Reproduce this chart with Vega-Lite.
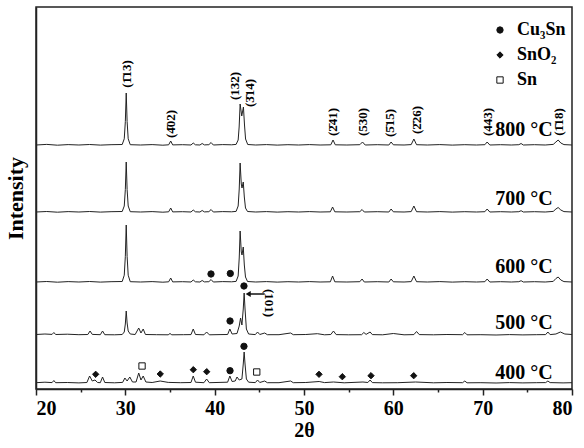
{
  "$schema": "https://vega.github.io/schema/vega-lite/v6.json",
  "width": 536,
  "height": 382,
  "autosize": {"type": "none"},
  "padding": {"left": 36, "top": 7, "right": 12, "bottom": 59},
  "background": "white",
  "config": {
    "view": {"stroke": "#222", "strokeWidth": 1.5},
    "font": "Liberation Serif"
  },
  "datasets": {
    "lines": [
      {"s":"800","t":20,"i":244},{"s":"800","t":21.2,"i":244.6},{"s":"800","t":22.4,"i":243.8},{"s":"800","t":23.6,"i":244.4},{"s":"800","t":24.8,"i":244},{"s":"800","t":26,"i":244.5},{"s":"800","t":27.2,"i":243.9},{"s":"800","t":28.4,"i":244.3},{"s":"800","t":29.65,"i":244.5},
      {"s":"800","t":29.88,"i":250.2},{"s":"800","t":30.0,"i":267.4},{"s":"800","t":30.1,"i":296},{"s":"800","t":30.2,"i":267.4},{"s":"800","t":30.32,"i":250.2},{"s":"800","t":30.55,"i":244.3},
      {"s":"800","t":31.7,"i":244},{"s":"800","t":33,"i":244.4},{"s":"800","t":34.2,"i":243.8},{"s":"800","t":34.85,"i":244.2},{"s":"800","t":35.08,"i":248},{"s":"800","t":35.3,"i":244.1},{"s":"800","t":36.4,"i":244.3},{"s":"800","t":37.35,"i":244},{"s":"800","t":37.6,"i":246},{"s":"800","t":37.85,"i":244.2},{"s":"800","t":38.35,"i":244},{"s":"800","t":38.6,"i":245.5},{"s":"800","t":38.85,"i":244.1},{"s":"800","t":39.35,"i":244.3},{"s":"800","t":39.6,"i":246.5},{"s":"800","t":39.85,"i":244},{"s":"800","t":40.9,"i":244.4},{"s":"800","t":41.9,"i":244.2},
      {"s":"800","t":42.4,"i":244.6},{"s":"800","t":42.63,"i":249},{"s":"800","t":42.74,"i":262},{"s":"800","t":42.85,"i":285},{"s":"800","t":43.03,"i":273},{"s":"800","t":43.22,"i":282},{"s":"800","t":43.34,"i":264},{"s":"800","t":43.46,"i":250},{"s":"800","t":43.7,"i":244.5},
      {"s":"800","t":44.6,"i":244},{"s":"800","t":45.8,"i":244.4},{"s":"800","t":47,"i":243.9},{"s":"800","t":48.2,"i":244.3},{"s":"800","t":49.4,"i":244},{"s":"800","t":50.6,"i":244.4},{"s":"800","t":51.8,"i":244},{"s":"800","t":53.0,"i":244.2},{"s":"800","t":53.25,"i":249},{"s":"800","t":53.5,"i":244.2},{"s":"800","t":54.8,"i":244},{"s":"800","t":56.25,"i":244.3},{"s":"800","t":56.55,"i":247},{"s":"800","t":56.85,"i":244},{"s":"800","t":58.2,"i":244.3},{"s":"800","t":59.5,"i":244},{"s":"800","t":59.75,"i":247},{"s":"800","t":60.0,"i":244.2},{"s":"800","t":61.2,"i":244},{"s":"800","t":62.0,"i":244.4},{"s":"800","t":62.3,"i":250},{"s":"800","t":62.6,"i":244.3},{"s":"800","t":63.8,"i":244},{"s":"800","t":65.2,"i":244.4},{"s":"800","t":66.6,"i":243.9},{"s":"800","t":68,"i":244.3},{"s":"800","t":69.3,"i":244},{"s":"800","t":70.25,"i":244.3},{"s":"800","t":70.5,"i":247},{"s":"800","t":70.8,"i":244},{"s":"800","t":72,"i":244.3},{"s":"800","t":73.2,"i":244},{"s":"800","t":74.05,"i":244.3},{"s":"800","t":74.3,"i":245.5},{"s":"800","t":74.55,"i":244},{"s":"800","t":75.8,"i":244.3},{"s":"800","t":77,"i":244},{"s":"800","t":77.9,"i":244.6},{"s":"800","t":78.2,"i":247},{"s":"800","t":78.45,"i":249},{"s":"800","t":78.75,"i":246},{"s":"800","t":79.1,"i":244.4},{"s":"800","t":80,"i":244},

      {"s":"700","t":20,"i":177},{"s":"700","t":21.2,"i":177.5},{"s":"700","t":22.4,"i":176.8},{"s":"700","t":23.6,"i":177.4},{"s":"700","t":24.8,"i":177},{"s":"700","t":26,"i":177.5},{"s":"700","t":27.2,"i":176.9},{"s":"700","t":28.4,"i":177.3},{"s":"700","t":29.65,"i":177.5},
      {"s":"700","t":29.88,"i":183},{"s":"700","t":30.0,"i":199.5},{"s":"700","t":30.1,"i":227},{"s":"700","t":30.2,"i":199.5},{"s":"700","t":30.32,"i":183},{"s":"700","t":30.55,"i":177.3},
      {"s":"700","t":31.7,"i":177},{"s":"700","t":33,"i":177.4},{"s":"700","t":34.2,"i":176.8},{"s":"700","t":34.85,"i":177.2},{"s":"700","t":35.08,"i":181},{"s":"700","t":35.3,"i":177.1},{"s":"700","t":36.4,"i":177.3},{"s":"700","t":37.35,"i":177},{"s":"700","t":37.6,"i":179},{"s":"700","t":37.85,"i":177.2},{"s":"700","t":38.35,"i":177},{"s":"700","t":38.6,"i":178.5},{"s":"700","t":38.85,"i":177.1},{"s":"700","t":39.35,"i":177.3},{"s":"700","t":39.6,"i":179.5},{"s":"700","t":39.85,"i":177},{"s":"700","t":40.9,"i":177.4},{"s":"700","t":41.9,"i":177.2},
      {"s":"700","t":42.4,"i":177.6},{"s":"700","t":42.63,"i":183},{"s":"700","t":42.75,"i":200},{"s":"700","t":42.85,"i":226},{"s":"700","t":42.98,"i":205},{"s":"700","t":43.06,"i":201},{"s":"700","t":43.2,"i":207},{"s":"700","t":43.32,"i":192},{"s":"700","t":43.45,"i":181},{"s":"700","t":43.68,"i":177.5},
      {"s":"700","t":44.6,"i":177},{"s":"700","t":45.8,"i":177.4},{"s":"700","t":47,"i":176.9},{"s":"700","t":48.2,"i":177.3},{"s":"700","t":49.4,"i":177},{"s":"700","t":50.6,"i":177.4},{"s":"700","t":51.8,"i":177},{"s":"700","t":52.95,"i":177.2},{"s":"700","t":53.2,"i":182},{"s":"700","t":53.45,"i":177.2},{"s":"700","t":54.8,"i":177},{"s":"700","t":56.25,"i":177.3},{"s":"700","t":56.5,"i":179.5},{"s":"700","t":56.75,"i":177},{"s":"700","t":58.2,"i":177.3},{"s":"700","t":59.5,"i":177},{"s":"700","t":59.75,"i":180},{"s":"700","t":60.0,"i":177.2},{"s":"700","t":61.2,"i":177},{"s":"700","t":62.0,"i":177.4},{"s":"700","t":62.3,"i":183},{"s":"700","t":62.6,"i":177.3},{"s":"700","t":63.8,"i":177},{"s":"700","t":65.2,"i":177.4},{"s":"700","t":66.6,"i":176.9},{"s":"700","t":68,"i":177.3},{"s":"700","t":69.3,"i":177},{"s":"700","t":70.25,"i":177.3},{"s":"700","t":70.5,"i":180},{"s":"700","t":70.8,"i":177},{"s":"700","t":72,"i":177.3},{"s":"700","t":73.2,"i":177},{"s":"700","t":74.05,"i":177.3},{"s":"700","t":74.3,"i":178.3},{"s":"700","t":74.55,"i":177},{"s":"700","t":75.8,"i":177.3},{"s":"700","t":77,"i":177},{"s":"700","t":77.9,"i":177.6},{"s":"700","t":78.2,"i":180},{"s":"700","t":78.45,"i":181.5},{"s":"700","t":78.75,"i":179},{"s":"700","t":79.1,"i":177.4},{"s":"700","t":80,"i":177},

      {"s":"600","t":20,"i":107},{"s":"600","t":21.2,"i":107.5},{"s":"600","t":22.4,"i":106.8},{"s":"600","t":23.6,"i":107.4},{"s":"600","t":24.8,"i":107},{"s":"600","t":26,"i":107.5},{"s":"600","t":27.2,"i":106.9},{"s":"600","t":28.4,"i":107.3},{"s":"600","t":29.65,"i":107.5},
      {"s":"600","t":29.88,"i":113.8},{"s":"600","t":30.0,"i":132.7},{"s":"600","t":30.1,"i":164},{"s":"600","t":30.2,"i":132.7},{"s":"600","t":30.32,"i":113.8},{"s":"600","t":30.55,"i":107.3},
      {"s":"600","t":31.7,"i":107},{"s":"600","t":33,"i":107.4},{"s":"600","t":34.2,"i":106.8},{"s":"600","t":34.85,"i":107.2},{"s":"600","t":35.08,"i":111},{"s":"600","t":35.3,"i":107.1},{"s":"600","t":36.4,"i":107.3},{"s":"600","t":37.35,"i":107},{"s":"600","t":37.6,"i":109},{"s":"600","t":37.85,"i":107.2},{"s":"600","t":38.35,"i":107},{"s":"600","t":38.6,"i":108.5},{"s":"600","t":38.85,"i":107.1},{"s":"600","t":39.35,"i":107.3},{"s":"600","t":39.6,"i":109.5},{"s":"600","t":39.85,"i":107},{"s":"600","t":40.9,"i":107.4},{"s":"600","t":41.9,"i":107.2},
      {"s":"600","t":42.4,"i":107.6},{"s":"600","t":42.63,"i":113},{"s":"600","t":42.75,"i":131},{"s":"600","t":42.85,"i":158},{"s":"600","t":42.98,"i":137},{"s":"600","t":43.06,"i":134},{"s":"600","t":43.2,"i":142},{"s":"600","t":43.32,"i":124},{"s":"600","t":43.45,"i":112},{"s":"600","t":43.68,"i":107.5},
      {"s":"600","t":44.6,"i":107},{"s":"600","t":45.8,"i":107.4},{"s":"600","t":47,"i":106.9},{"s":"600","t":48.2,"i":107.3},{"s":"600","t":49.4,"i":107},{"s":"600","t":50.6,"i":107.4},{"s":"600","t":51.8,"i":107},{"s":"600","t":52.95,"i":107.2},{"s":"600","t":53.2,"i":113},{"s":"600","t":53.45,"i":107.2},{"s":"600","t":54.8,"i":107},{"s":"600","t":56.25,"i":107.3},{"s":"600","t":56.5,"i":110},{"s":"600","t":56.75,"i":107},{"s":"600","t":58.2,"i":107.3},{"s":"600","t":59.5,"i":107},{"s":"600","t":59.75,"i":110},{"s":"600","t":60.0,"i":107.2},{"s":"600","t":61.2,"i":107},{"s":"600","t":62.0,"i":107.4},{"s":"600","t":62.3,"i":113},{"s":"600","t":62.6,"i":107.3},{"s":"600","t":63.8,"i":107},{"s":"600","t":65.2,"i":107.4},{"s":"600","t":66.6,"i":106.9},{"s":"600","t":68,"i":107.3},{"s":"600","t":69.3,"i":107},{"s":"600","t":70.25,"i":107.3},{"s":"600","t":70.5,"i":110},{"s":"600","t":70.8,"i":107},{"s":"600","t":72,"i":107.3},{"s":"600","t":73.2,"i":107},{"s":"600","t":74.05,"i":107.3},{"s":"600","t":74.3,"i":108.3},{"s":"600","t":74.55,"i":107},{"s":"600","t":75.8,"i":107.3},{"s":"600","t":77,"i":107},{"s":"600","t":77.9,"i":107.6},{"s":"600","t":78.2,"i":110.5},{"s":"600","t":78.45,"i":112},{"s":"600","t":78.75,"i":109},{"s":"600","t":79.1,"i":107.4},{"s":"600","t":80,"i":107},

      {"s":"500","t":20,"i":54.5},{"s":"500","t":21,"i":55},{"s":"500","t":21.8,"i":54.6},{"s":"500","t":22.0,"i":56.5},{"s":"500","t":22.2,"i":54.5},{"s":"500","t":23.5,"i":54.8},{"s":"500","t":24.8,"i":54.3},{"s":"500","t":25.8,"i":54.5},{"s":"500","t":26.05,"i":58},{"s":"500","t":26.3,"i":54.6},{"s":"500","t":27.2,"i":54.3},{"s":"500","t":27.45,"i":58},{"s":"500","t":27.7,"i":54.3},{"s":"500","t":28.8,"i":54.2},{"s":"500","t":29.65,"i":54.5},
      {"s":"500","t":29.88,"i":57},{"s":"500","t":30.0,"i":65},{"s":"500","t":30.1,"i":78},{"s":"500","t":30.2,"i":66},{"s":"500","t":30.32,"i":58},{"s":"500","t":30.55,"i":55},
      {"s":"500","t":31.1,"i":54.5},{"s":"500","t":31.5,"i":61},{"s":"500","t":31.75,"i":56},{"s":"500","t":32.0,"i":60},{"s":"500","t":32.25,"i":54.5},{"s":"500","t":33.5,"i":54.3},{"s":"500","t":34.8,"i":54.2},{"s":"500","t":35.0,"i":55.5},{"s":"500","t":35.2,"i":54.2},{"s":"500","t":36.5,"i":54.3},{"s":"500","t":37.35,"i":54.4},{"s":"500","t":37.6,"i":60},{"s":"500","t":37.85,"i":54.5},{"s":"500","t":38.8,"i":54.2},{"s":"500","t":39.1,"i":57},{"s":"500","t":39.4,"i":54.2},{"s":"500","t":40.6,"i":54.4},{"s":"500","t":41.45,"i":54.5},{"s":"500","t":41.7,"i":60},{"s":"500","t":41.95,"i":55},{"s":"500","t":42.5,"i":55.5},{"s":"500","t":42.75,"i":63},{"s":"500","t":42.9,"i":71},{"s":"500","t":43.05,"i":64},{"s":"500","t":43.2,"i":80},{"s":"500","t":43.3,"i":96},{"s":"500","t":43.4,"i":80},{"s":"500","t":43.55,"i":60},{"s":"500","t":43.8,"i":55},
      {"s":"500","t":44.55,"i":54.4},{"s":"500","t":44.8,"i":57},{"s":"500","t":45.05,"i":54.5},{"s":"500","t":45.6,"i":56},{"s":"500","t":45.9,"i":54.3},{"s":"500","t":47.2,"i":54.3},{"s":"500","t":48.5,"i":56},{"s":"500","t":48.8,"i":54.3},{"s":"500","t":50.2,"i":54.5},{"s":"500","t":51.5,"i":55.3},{"s":"500","t":52.3,"i":54.2},{"s":"500","t":53.0,"i":54.5},{"s":"500","t":53.3,"i":58},{"s":"500","t":53.6,"i":54.4},{"s":"500","t":55,"i":54.2},{"s":"500","t":56.45,"i":54.3},{"s":"500","t":56.7,"i":56.5},{"s":"500","t":56.95,"i":54.6},{"s":"500","t":57.4,"i":57},{"s":"500","t":57.65,"i":54.4},{"s":"500","t":58.8,"i":54.2},{"s":"500","t":60,"i":55.5},{"s":"500","t":61.2,"i":54.2},{"s":"500","t":62.3,"i":54.4},{"s":"500","t":62.6,"i":57.5},{"s":"500","t":62.9,"i":54.4},{"s":"500","t":64.5,"i":54.2},{"s":"500","t":66,"i":54.5},{"s":"500","t":67.75,"i":54.3},{"s":"500","t":68.0,"i":56.5},{"s":"500","t":68.25,"i":54.2},{"s":"500","t":69.8,"i":54.3},{"s":"500","t":71.5,"i":54},{"s":"500","t":73,"i":54.4},{"s":"500","t":74.5,"i":54.1},{"s":"500","t":76,"i":54.3},{"s":"500","t":77.05,"i":54.4},{"s":"500","t":77.3,"i":57},{"s":"500","t":77.55,"i":54.4},{"s":"500","t":78.2,"i":55},{"s":"500","t":78.7,"i":57},{"s":"500","t":79.2,"i":55},{"s":"500","t":80,"i":54.5},

      {"s":"400","t":20,"i":6.3},{"s":"400","t":21,"i":6.8},{"s":"400","t":21.8,"i":6.4},{"s":"400","t":22.0,"i":8.5},{"s":"400","t":22.2,"i":6.3},{"s":"400","t":23.5,"i":6.5},{"s":"400","t":24.8,"i":6.1},{"s":"400","t":25.7,"i":6.5},{"s":"400","t":26.0,"i":13},{"s":"400","t":26.3,"i":8},{"s":"400","t":26.6,"i":9},{"s":"400","t":26.9,"i":6.5},{"s":"400","t":27.2,"i":6.3},{"s":"400","t":27.45,"i":12},{"s":"400","t":27.7,"i":6.5},{"s":"400","t":28.8,"i":6.2},{"s":"400","t":29.7,"i":6.6},{"s":"400","t":29.95,"i":11},{"s":"400","t":30.2,"i":8},{"s":"400","t":30.5,"i":12},{"s":"400","t":30.8,"i":7},{"s":"400","t":31.2,"i":7},{"s":"400","t":31.5,"i":16},{"s":"400","t":31.75,"i":9},{"s":"400","t":32.0,"i":13},{"s":"400","t":32.3,"i":7},{"s":"400","t":33.0,"i":6.5},{"s":"400","t":33.9,"i":8},{"s":"400","t":34.8,"i":6.6},{"s":"400","t":36.2,"i":6.3},{"s":"400","t":37.35,"i":6.5},{"s":"400","t":37.6,"i":13},{"s":"400","t":37.85,"i":6.8},{"s":"400","t":38.8,"i":6.3},{"s":"400","t":39.1,"i":10},{"s":"400","t":39.4,"i":6.3},{"s":"400","t":40.6,"i":6.6},{"s":"400","t":41.45,"i":6.8},{"s":"400","t":41.7,"i":13},{"s":"400","t":41.95,"i":7.5},{"s":"400","t":42.3,"i":8},{"s":"400","t":42.5,"i":12},{"s":"400","t":42.75,"i":9},{"s":"400","t":43.05,"i":10},{"s":"400","t":43.2,"i":25},{"s":"400","t":43.3,"i":37},{"s":"400","t":43.4,"i":25},{"s":"400","t":43.55,"i":10},{"s":"400","t":43.8,"i":6.8},
      {"s":"400","t":44.55,"i":6.4},{"s":"400","t":44.8,"i":9},{"s":"400","t":45.05,"i":6.5},{"s":"400","t":45.6,"i":8},{"s":"400","t":45.9,"i":6.3},{"s":"400","t":47.2,"i":6.3},{"s":"400","t":48.5,"i":8},{"s":"400","t":48.8,"i":6.3},{"s":"400","t":50.2,"i":6.5},{"s":"400","t":51.7,"i":7.5},{"s":"400","t":52.3,"i":6.4},{"s":"400","t":53.3,"i":7},{"s":"400","t":54.5,"i":6.2},{"s":"400","t":56.6,"i":7},{"s":"400","t":57.15,"i":6.5},{"s":"400","t":57.4,"i":9},{"s":"400","t":57.65,"i":6.4},{"s":"400","t":58.8,"i":6.2},{"s":"400","t":60.5,"i":6.3},{"s":"400","t":62.5,"i":7},{"s":"400","t":64.5,"i":6.2},{"s":"400","t":66,"i":6.5},{"s":"400","t":67.75,"i":6.3},{"s":"400","t":68.0,"i":8},{"s":"400","t":68.25,"i":6.2},{"s":"400","t":69.8,"i":6.3},{"s":"400","t":71.5,"i":6},{"s":"400","t":73,"i":6.4},{"s":"400","t":74.5,"i":6.1},{"s":"400","t":76,"i":6.3},{"s":"400","t":77.05,"i":6.4},{"s":"400","t":77.3,"i":8},{"s":"400","t":77.55,"i":6.4},{"s":"400","t":79,"i":6.1},{"s":"400","t":80,"i":6.3}
    ],
    "markers": [
      {"t":26.68,"i":14.7,"phase":"SnO₂"},{"t":31.87,"i":23,"phase":"Sn"},{"t":33.91,"i":15,"phase":"SnO₂"},{"t":37.61,"i":19.3,"phase":"SnO₂"},{"t":39.11,"i":17.3,"phase":"SnO₂"},{"t":41.72,"i":18.3,"phase":"Cu₃Sn"},{"t":43.28,"i":42.7,"phase":"Cu₃Sn"},{"t":44.71,"i":17,"phase":"Sn"},{"t":51.68,"i":14.7,"phase":"SnO₂"},{"t":54.29,"i":12.3,"phase":"SnO₂"},{"t":57.5,"i":13.3,"phase":"SnO₂"},{"t":62.28,"i":13.3,"phase":"SnO₂"},
      {"t":41.72,"i":68,"phase":"Cu₃Sn"},{"t":43.28,"i":103,"phase":"Cu₃Sn"},
      {"t":39.59,"i":115,"phase":"Cu₃Sn"},{"t":41.75,"i":115.5,"phase":"Cu₃Sn"}
    ],
    "temps": [
      {"t":74.63,"i":259,"label":"800 °C"},{"t":74.63,"i":190,"label":"700 °C"},{"t":74.63,"i":122,"label":"600 °C"},{"t":74.63,"i":66,"label":"500 °C"},{"t":74.63,"i":16,"label":"400 °C"}
    ],
    "miller": [
      {"t":30.15,"i":315,"label":"(1̄13)"},{"t":35.08,"i":265,"label":"(4̄02)"},{"t":42.28,"i":303,"label":"(132)"},{"t":43.96,"i":296,"label":"(3̄14)"},{"t":53.28,"i":267,"label":"(2̄41)"},{"t":56.57,"i":267,"label":"(530)"},{"t":59.63,"i":266,"label":"(5̄15)"},{"t":62.62,"i":269,"label":"(2̄26)"},{"t":70.63,"i":267,"label":"(443)"},{"t":78.58,"i":267,"label":"(1̄18)"}
    ]
  },
  "encoding": {
    "x": {"field": "t", "type": "quantitative", "scale": {"domain": [20, 80], "nice": false, "zero": false},
      "axis": {"title": "2θ", "values": [20,25,30,35,40,45,50,55,60,65,70,75,80],
        "labelExpr": "datum.value % 10 === 0 ? datum.label : ''",
        "tickSize": {"condition": {"test": "datum.value % 10 === 0", "value": 6}, "value": 3},
        "grid": false, "domainColor": "#222", "domainWidth": 1.5, "tickColor": "#222", "tickWidth": 1.5,
        "labelFont": "Liberation Serif", "labelFontSize": 20, "labelFontWeight": "bold", "labelColor": "black", "labelPadding": 3,
        "titleFont": "Liberation Serif", "titleFontSize": 20, "titleFontWeight": "bold", "titleColor": "black", "titlePadding": 2}},
    "y": {"field": "i", "type": "quantitative", "scale": {"domain": [0, 382], "nice": false, "zero": false},
      "axis": {"title": "Intensity", "labels": false, "ticks": false, "grid": false, "domainColor": "#222", "domainWidth": 1.5,
        "titleFont": "Liberation Serif", "titleFontSize": 22, "titleFontWeight": "bold", "titleColor": "black", "titlePadding": 9}}
  },
  "layer": [
    {"data": {"name": "lines"}, "mark": {"type": "line", "color": "#222", "strokeWidth": 1, "interpolate": "linear"},
      "encoding": {"detail": {"field": "s"}}},
    {"data": {"name": "markers"}, "mark": {"type": "point", "filled": true, "strokeWidth": 1, "size": 40, "opacity": 1},
      "encoding": {
        "shape": {"field": "phase", "type": "nominal", "scale": {"domain": ["Cu₃Sn", "SnO₂", "Sn"], "range": ["circle", "diamond", "square"]},
          "legend": {"title": null, "orient": "none", "legendX": 455, "legendY": 14, "padding": 0, "labelFont": "Liberation Serif", "labelFontSize": 18, "labelFontWeight": "bold", "labelColor": "black", "labelOffset": 8, "rowPadding": 7, "symbolSize": 40, "symbolStrokeWidth": 1}},
        "fill": {"field": "phase", "type": "nominal", "scale": {"domain": ["Cu₃Sn", "SnO₂", "Sn"], "range": ["#111", "#111", "#fff"]}},
        "stroke": {"field": "phase", "type": "nominal", "scale": {"domain": ["Cu₃Sn", "SnO₂", "Sn"], "range": ["#111", "#111", "#111"]}}
      }},
    {"data": {"name": "temps"}, "mark": {"type": "text", "font": "Liberation Serif", "fontSize": 20, "fontWeight": "bold", "color": "black", "align": "center", "baseline": "middle"},
      "encoding": {"text": {"field": "label"}}},
    {"data": {"name": "miller"}, "mark": {"type": "text", "font": "Liberation Serif", "fontSize": 13, "fontWeight": "bold", "color": "black", "align": "center", "baseline": "middle", "angle": 270},
      "encoding": {"text": {"field": "label"}}},
    {"data": {"values": [{"t": 46.1, "i": 86, "label": "(101)"}]}, "mark": {"type": "text", "font": "Liberation Serif", "fontSize": 13, "fontWeight": "bold", "color": "black", "align": "center", "baseline": "middle", "angle": 90},
      "encoding": {"text": {"field": "label"}}},
    {"data": {"values": [{"t": 45.6, "t2": 43.9, "i": 95}]}, "mark": {"type": "rule", "color": "#111", "strokeWidth": 1.5},
      "encoding": {"x2": {"field": "t2"}}},
    {"data": {"values": [{"t": 43.75, "i": 95}]}, "mark": {"type": "point", "shape": "triangle-left", "filled": true, "color": "#111", "size": 35, "opacity": 1},
      "encoding": {}}
  ]
}
